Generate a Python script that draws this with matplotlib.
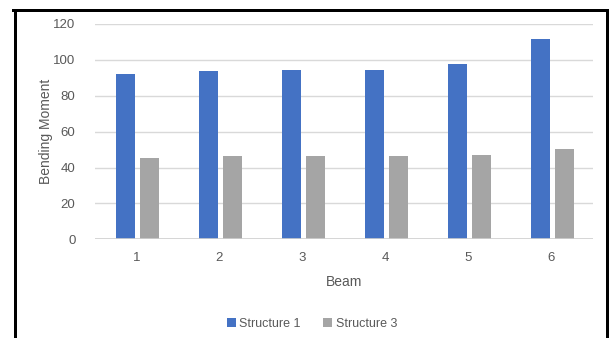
import numpy as np
import matplotlib.pyplot as plt
from matplotlib.lines import Line2D

beams = ['1', '2', '3', '4', '5', '6']
structure_1 = [92.3, 93.8, 94.4, 94.4, 97.5, 111.6]
structure_3 = [45.1, 46.6, 46.6, 46.6, 47.2, 50.3]
y_ticks = [0, 20, 40, 60, 80, 100, 120]

W, H = 609, 338
fig = plt.figure(figsize=(W / 100, H / 100), dpi=100)
plt.rcParams['font.family'] = ['Liberation Sans', 'DejaVu Sans']

ax = fig.add_axes([95 / W, 1 - 239.3 / H, 498 / W, 215.3 / H])

x = np.arange(len(beams))
width = 0.23
ax.bar(x - 0.137, structure_1, width, color='#4472C4', label='Structure 1', zorder=3)
ax.bar(x + 0.153, structure_3, width, color='#A5A5A5', label='Structure 3', zorder=3)

ax.set_xlim(-0.5, len(beams) - 0.5)
ax.set_ylim(0, 120)
ax.set_yticks(y_ticks)
ax.set_xticks(x)
ax.set_xticklabels(beams)
ax.grid(axis='y', color='#d9d9d9', linewidth=1, zorder=0)
ax.axhline(0, color='#d0d0d0', linewidth=1.2, zorder=4)
for s in ax.spines.values():
    s.set_visible(False)
ax.tick_params(length=0, colors='#595959', labelsize=9.5)
ax.tick_params(axis='y', pad=14)
ax.tick_params(axis='x', pad=9)

ax.set_ylabel('Bending Moment', color='#595959', fontsize=10, labelpad=0)
ax.set_xlabel('Beam', color='#595959', fontsize=10, labelpad=8)

fig.legend(loc='center', bbox_to_anchor=(312 / W, 1 - 324 / H), ncol=2,
           frameon=False, fontsize=9, labelcolor='#595959',
           handlelength=0.7, handleheight=0.7, handletextpad=0.3, columnspacing=1.8)

# black frame around the chart
lw = 3 * 72 / 100
fig.add_artist(Line2D([14.5 / W, 14.5 / W], [0, 1 - 9.5 / H], color='black', lw=lw))
fig.add_artist(Line2D([606.5 / W, 606.5 / W], [0, 1 - 9.5 / H], color='black', lw=lw))
fig.add_artist(Line2D([13 / W, 608 / W], [1 - 9.5 / H, 1 - 9.5 / H], color='black', lw=lw))

fig.savefig('out.png', dpi=100)
